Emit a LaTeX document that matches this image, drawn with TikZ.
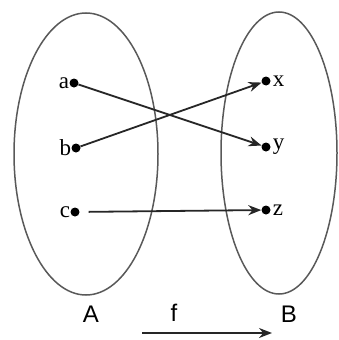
\documentclass[tikz,border=0pt]{standalone}
\usepackage{fontspec}
\setmainfont{Liberation Serif}
\newfontfamily\arialfont{Liberation Sans}
\usetikzlibrary{positioning,arrows.meta}
\begin{document}
\begin{tikzpicture}[x=1pt,y=-1pt,
    dot/.style={circle, fill=black, inner sep=0pt, minimum size=9pt},
    elem/.style={inner sep=1pt, font=\fontsize{23}{23}\selectfont},
    setname/.style={inner sep=0pt, font=\arialfont\fontsize{24}{24}\selectfont},
    map/.style={-{Stealth[length=13pt, width=10pt]}, line width=1.8pt, black!85}]
    \useasboundingbox (0,0) rectangle (339,340);

    % The two sets (ellipses)
    \draw[line width=1.5pt, black!65] (86,154) ellipse (72 and 141);
    \draw[line width=1.5pt, black!65] (279,153) ellipse (58 and 141);

    % Elements of A (labels on the left)
    \foreach \n/\x/\y in {a/74/83, b/76/148, c/75/212} {
        \node[dot] (\n) at (\x,\y) {};
        \node[elem, left=-1pt of \n] (\n-lbl) {\n};
    }

    % Elements of B (labels on the right)
    \foreach \n/\x/\y in {x/266/81, y/266/147, z/266/210} {
        \node[dot] (\n) at (\x,\y) {};
        \node[elem, right=1pt of \n] (\n-lbl) {\n};
    }

    % The mapping
    \draw[map] (a) -- (y);
    \draw[map] (b) -- (x);
    \draw[map, shorten <=9pt] (c) -- (z);

    % Set names and the function arrow
    \node[setname] (A) at (91,314) {A};
    \node[setname] (B) at (289,314) {B};
    \node[setname] (f) at (174,313) {f};
    \coordinate (f-start) at (142,333);
    \coordinate (f-end) at (272,333);
    \draw[map] (f-start) -- (f-end);

\end{tikzpicture}
\end{document}
